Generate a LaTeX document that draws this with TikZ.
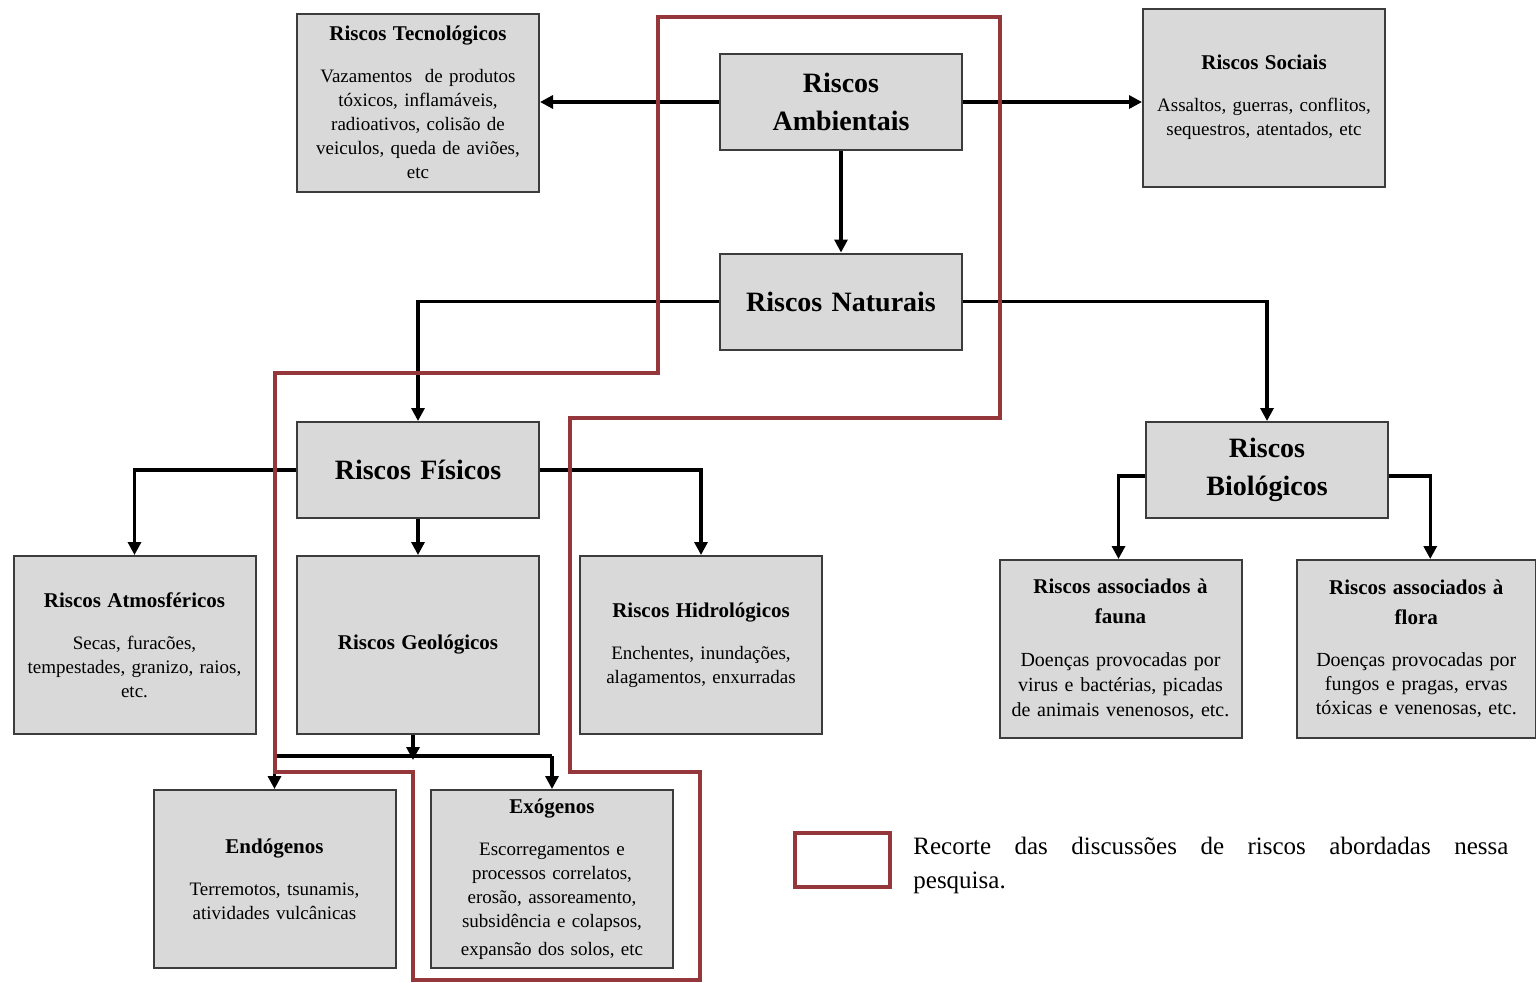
\documentclass[tikz,border=0pt]{standalone}
\usepackage{fontspec}
\setmainfont{Liberation Serif}
\usepackage{xcolor}
\usepackage{tikz}
\usetikzlibrary{arrows.meta}
\definecolor{boxfill}{RGB}{217,217,217}
\definecolor{boxline}{RGB}{60,60,60}
\definecolor{recorte}{RGB}{149,55,58}
\pgfdeclarelayer{nodelayer}
\pgfdeclarelayer{edgelayer}
\pgfsetlayers{edgelayer,nodelayer,main}

\begin{document}
\begin{tikzpicture}[x=0.5pt, y=-0.5pt,
    caixa/.style={draw=boxline, fill=boxfill, line width=1pt, inner sep=0pt,
      minimum width=121pt, text width=116pt, align=center,
      font=\fontsize{9.5}{12}\selectfont},
    alta/.style={caixa, minimum height=89pt},
    baixa/.style={caixa, minimum height=48pt,
      font=\fontsize{14}{19}\selectfont\bfseries},
    seta/.style={line width=1.6pt, -{Triangle[length=6.5pt, width=6.5pt]}},
    linha/.style={line width=1.6pt}]
  \useasboundingbox (0,0) rectangle (1536,982);
  \begin{pgfonlayer}{nodelayer}
    \node [alta] (0) at (418, 102.5) {{\fontsize{10.5}{12}\selectfont\bfseries Riscos Tecnológicos}\\[9pt]
      Vazamentos\ \ de produtos\\ tóxicos, inflamáveis,\\ radioativos, colisão de\\ veiculos, queda de aviões,\\ etc};
    \node [baixa] (1) at (841, 102) {Riscos\\ Ambientais};
    \node [alta] (2) at (1264, 97.5) {{\fontsize{10.5}{12}\selectfont\bfseries Riscos Sociais}\\[9pt]
      Assaltos, guerras, conflitos,\\ sequestros, atentados, etc};
    \node [baixa] (3) at (841, 301.5) {Riscos Naturais};
    \node [baixa] (4) at (418, 470) {Riscos Físicos};
    \node [baixa] (5) at (1267, 470) {Riscos\\ Biológicos};
    \node [alta] (6) at (134.5, 645) {{\fontsize{10.5}{12}\selectfont\bfseries Riscos Atmosféricos}\\[9pt]
      Secas, furacões,\\ tempestades, granizo,\ raios,\\ etc.};
    \node [alta] (7) at (418, 645) {{\fontsize{10.5}{12}\selectfont\bfseries Riscos Geológicos}};
    \node [alta] (8) at (701, 645) {{\fontsize{10.5}{12}\selectfont\bfseries Riscos Hidrológicos}\\[9pt]
      Enchentes, inundações,\\ alagamentos, enxurradas};
    \node [alta, font=\fontsize{10}{12.5}\selectfont] (9) at (1120.5, 649) {{\fontsize{10.5}{12}\selectfont\bfseries Riscos associados à\\[2.5pt] fauna}\\[9pt]
      Doenças provocadas por\\ virus e bactérias, picadas\\ de animais venenosos, etc.};
    \node [alta, minimum width=119.5pt, font=\fontsize{10}{12}\selectfont] (10) at (1416.25, 649) {{\fontsize{10.5}{12}\selectfont\bfseries Riscos associados à\\[3pt] flora}\\[9pt]
      Doenças provocadas por\\ fungos e pragas, ervas\\ tóxicas\ e venenosas, etc.};
    \node [alta] (11) at (274.5, 879) {{\fontsize{10.5}{12}\selectfont\bfseries Endógenos}\\[9pt]
      Terremotos, tsunamis,\\ atividades vulcânicas};
    \node [alta] (12) at (552, 879) {{\fontsize{10.5}{12}\selectfont\bfseries Exógenos}\\[9pt]
      Escorregamentos e\\ processos correlatos,\\ erosão, assoreamento,\\ subsidência e colapsos,\\[2pt] expansão dos solos, etc};
    \node [draw=recorte, line width=1.8pt, minimum width=47.5pt, minimum height=27pt, inner sep=0pt] (13) at (842.5, 860) {};
    \node [anchor=north west, inner sep=0pt, text width=297.5pt, align=justify,
      font=\fontsize{12.5}{17}\selectfont] (14) at (913, 837)
      {Recorte das discussões de riscos abordadas nessa\linebreak pesquisa.};
  \end{pgfonlayer}
  \begin{pgfonlayer}{edgelayer}
    \coordinate (15) at (413, 756);
    \draw [seta] (1.west) to (1.west -| 0.east);
    \draw [seta] (1.east) to (1.east -| 2.west);
    \draw [seta] (1.south) to (3.north);
    \draw [seta] (3.west) -| (4.north);
    \draw [seta] (3.east) -| (5.north);
    \draw [seta] (4.west) -| (6.north);
    \draw [seta] (4.south) to (7.north);
    \draw [seta] (4.east) -| (8.north);
    \draw [seta] ([yshift=-3pt]5.west) -| ([xshift=-1pt]9.north);
    \draw [seta] ([yshift=-3pt]5.east) -| ([xshift=7pt]10.north);
    \draw [seta] (7.south -| 15) to ([yshift=-2pt]15);
    \draw [linha] (15 -| 11.north) to (15 -| 12.north);
    \draw [seta] (15 -| 11.north) to (11.north);
    \draw [seta] (15 -| 12.north) to (12.north);
  \end{pgfonlayer}
  % recorte
  \draw [recorte, line width=1.8pt] (658,17) -- (1000,17) -- (1000,418) -- (570,418)
    -- (570,772) -- (700,772) -- (700,980) -- (413,980) -- (413,772) -- (275,772)
    -- (275,373) -- (658,373) -- cycle;
\end{tikzpicture}
\end{document}
